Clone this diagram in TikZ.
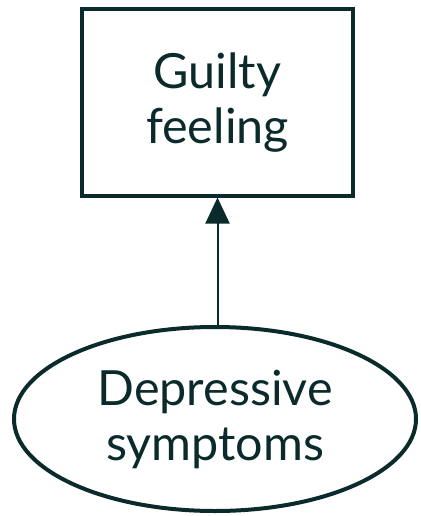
\documentclass[tikz,border=0pt]{standalone}
\usepackage{fontspec}
\setmainfont{Lato}
\usetikzlibrary{arrows.meta,positioning,shapes.geometric}
\definecolor{DeepTeal}{HTML}{0B2A2B}

\begin{document}
\begin{tikzpicture}[x=1pt,y=-1pt,
    every node/.style={font=\fontsize{48.5}{55}\selectfont,text=DeepTeal,align=center},
    factor/.style={draw=DeepTeal,line width=4pt}]
    \useasboundingbox (0,0) rectangle (420,516);

    \node[factor,rectangle,minimum width=271pt,minimum height=186pt] (guilt) at (217.5,102.5)
      {Guilty\\feeling};
    \node[factor,ellipse,minimum width=402pt,minimum height=184pt,inner sep=0pt] (depr) at (215,419)
      {Depressive\\symptoms};

    \draw[-{Triangle[length=26pt,width=24pt]},DeepTeal,line width=2pt] (depr.north -| guilt.south) -- (guilt.south);
  \end{tikzpicture}
\end{document}
